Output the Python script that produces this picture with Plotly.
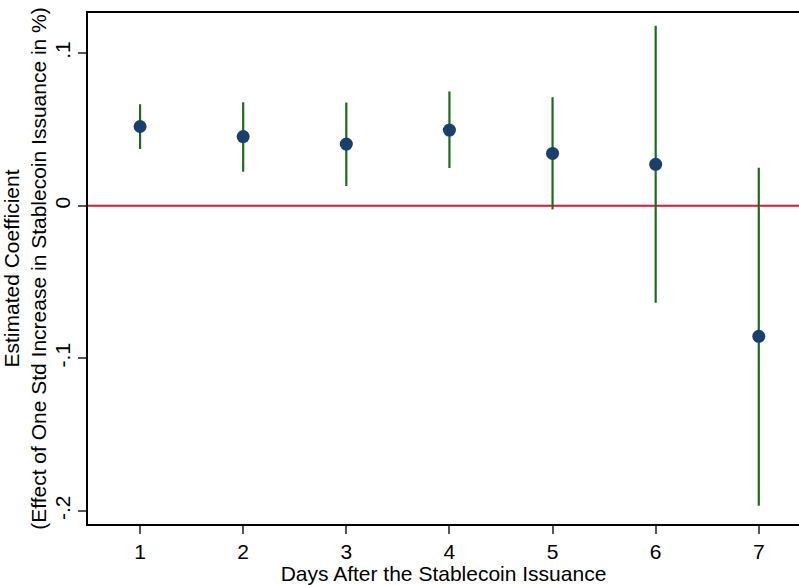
import plotly.graph_objects as go

days = [1, 2, 3, 4, 5, 6, 7]
coef = [0.0519, 0.0453, 0.0404, 0.0496, 0.0343, 0.0271, -0.0856]
ci_upper = [0.0665, 0.0678, 0.0676, 0.0749, 0.0711, 0.1179, 0.0249]
ci_lower = [0.0372, 0.0223, 0.0129, 0.0247, -0.0024, -0.0636, -0.1966]
y_tickvals = [0.1, 0, -0.1, -0.2]
y_ticktext = [".1", "0", "-.1", "-.2"]

err_plus = [u - c for u, c in zip(ci_upper, coef)]
err_minus = [c - l for c, l in zip(coef, ci_lower)]

FONT = "Liberation Sans, Arial, Helvetica, sans-serif"

fig = go.Figure()
fig.add_trace(go.Scatter(
    x=days, y=coef, mode="markers",
    marker=dict(color="#1a3f6b", size=13, line=dict(width=0)),
    error_y=dict(type="data", symmetric=False, array=err_plus, arrayminus=err_minus,
                 color="#1e6a1e", thickness=2.2, width=0),
    showlegend=False,
))
fig.add_shape(type="line", xref="paper", x0=0, x1=1, yref="y", y0=0, y1=0,
              line=dict(color="#d01a3c", width=2), layer="below")

fig.update_layout(
    width=799, height=585,
    margin=dict(l=88, r=0, t=13, b=61, autoexpand=False),
    plot_bgcolor="white", paper_bgcolor="white",
    font=dict(family=FONT, size=21, color="black"),
)
fig.update_xaxes(
    range=[0.495, 7.39], tickvals=days, ticktext=[str(d) for d in days],
    showgrid=False, zeroline=False, showline=True, linecolor="black", linewidth=1.5,
    mirror=True, ticks="outside", ticklen=8, tickcolor="#555", tickwidth=1.5,
    tickfont=dict(size=21), automargin=False,
    title=dict(text="Days After the Stablecoin Issuance", font=dict(size=21), standoff=2),
)
fig.update_yaxes(
    range=[-0.2086, 0.1263], tickvals=y_tickvals, ticktext=y_ticktext, tickangle=-90,
    showgrid=False, zeroline=False, showline=True, linecolor="black", linewidth=1.5,
    ticks="outside", ticklen=8, tickcolor="#555", tickwidth=1.5,
    tickfont=dict(size=21), automargin=False,
    title=dict(text="Estimated Coefficient<br>(Effect of One Std Increase in Stablecoin Issuance in %)",
               font=dict(size=21), standoff=0),
)
fig.write_html("out.html", config={"displayModeBar": False},
               post_script="document.body.style.margin='0';document.body.style.padding='0';")
